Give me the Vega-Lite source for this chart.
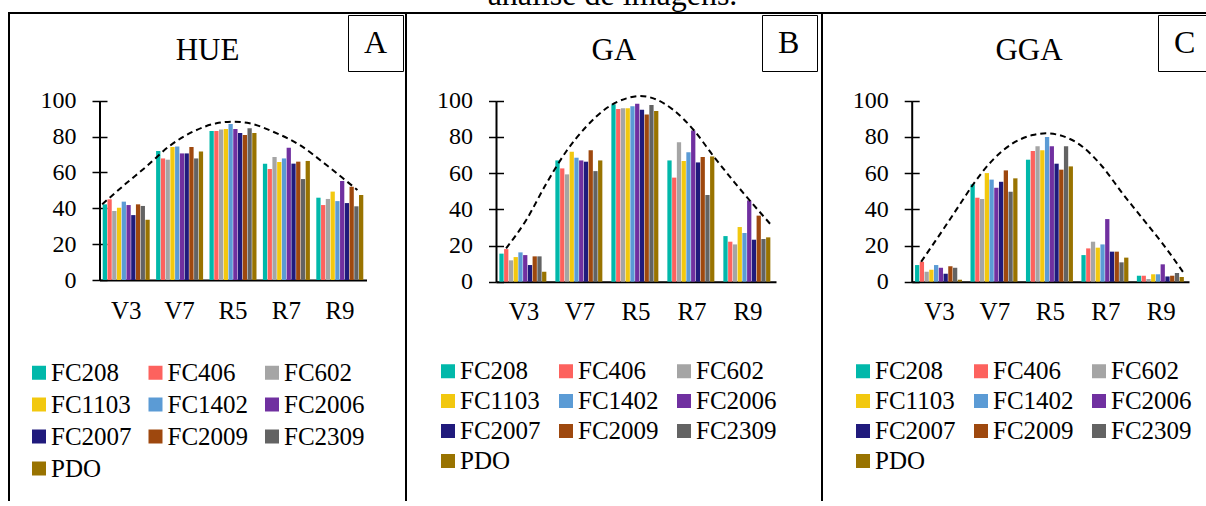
{
  "$schema": "https://vega.github.io/schema/vega-lite/v6.json",
  "padding": {"left": 8, "top": -21, "right": -31, "bottom": -13},
  "title": {"text": "análise de imagens.", "font": "Liberation Serif", "fontSize": 32, "fontWeight": "normal", "color": "black", "anchor": "middle", "baseline": "alphabetic", "offset": -25, "dx": -10},
  "spacing": 0,
  "bounds": "flush",
  "datasets": {
    "hue": [
      {"c":"V3","s":"FC208","v":42.2},{"c":"V3","s":"FC406","v":45.0},{"c":"V3","s":"FC602","v":38.5},{"c":"V3","s":"FC1103","v":40.3},{"c":"V3","s":"FC1402","v":43.7},{"c":"V3","s":"FC2006","v":41.8},{"c":"V3","s":"FC2007","v":36.2},{"c":"V3","s":"FC2009","v":42.2},{"c":"V3","s":"FC2309","v":41.3},{"c":"V3","s":"PDO","v":33.6},
      {"c":"V7","s":"FC208","v":71.9},{"c":"V7","s":"FC406","v":67.8},{"c":"V7","s":"FC602","v":67.1},{"c":"V7","s":"FC1103","v":74.2},{"c":"V7","s":"FC1402","v":74.5},{"c":"V7","s":"FC2006","v":70.6},{"c":"V7","s":"FC2007","v":70.6},{"c":"V7","s":"FC2009","v":74.2},{"c":"V7","s":"FC2309","v":67.8},{"c":"V7","s":"PDO","v":71.7},
      {"c":"R5","s":"FC208","v":83.1},{"c":"R5","s":"FC406","v":83.1},{"c":"R5","s":"FC602","v":84.0},{"c":"R5","s":"FC1103","v":84.2},{"c":"R5","s":"FC1402","v":87.0},{"c":"R5","s":"FC2006","v":84.2},{"c":"R5","s":"FC2007","v":82.0},{"c":"R5","s":"FC2009","v":80.9},{"c":"R5","s":"FC2309","v":84.6},{"c":"R5","s":"PDO","v":82.0},
      {"c":"R7","s":"FC208","v":64.9},{"c":"R7","s":"FC406","v":61.9},{"c":"R7","s":"FC602","v":68.6},{"c":"R7","s":"FC1103","v":65.8},{"c":"R7","s":"FC1402","v":67.8},{"c":"R7","s":"FC2006","v":73.8},{"c":"R7","s":"FC2007","v":64.9},{"c":"R7","s":"FC2009","v":66.0},{"c":"R7","s":"FC2309","v":56.3},{"c":"R7","s":"PDO","v":66.4},
      {"c":"R9","s":"FC208","v":45.9},{"c":"R9","s":"FC406","v":41.8},{"c":"R9","s":"FC602","v":45.2},{"c":"R9","s":"FC1103","v":49.3},{"c":"R9","s":"FC1402","v":44.0},{"c":"R9","s":"FC2006","v":55.2},{"c":"R9","s":"FC2007","v":42.9},{"c":"R9","s":"FC2009","v":52.0},{"c":"R9","s":"FC2309","v":41.1},{"c":"R9","s":"PDO","v":47.4}
    ],
    "ga": [
      {"c":"V3","s":"FC208","v":15.5},{"c":"V3","s":"FC406","v":18.0},{"c":"V3","s":"FC602","v":11.8},{"c":"V3","s":"FC1103","v":13.6},{"c":"V3","s":"FC1402","v":16.2},{"c":"V3","s":"FC2006","v":14.7},{"c":"V3","s":"FC2007","v":9.2},{"c":"V3","s":"FC2009","v":14.0},{"c":"V3","s":"FC2309","v":14.0},{"c":"V3","s":"PDO","v":5.5},
      {"c":"V7","s":"FC208","v":67.0},{"c":"V7","s":"FC406","v":62.6},{"c":"V7","s":"FC602","v":59.3},{"c":"V7","s":"FC1103","v":71.8},{"c":"V7","s":"FC1402","v":68.5},{"c":"V7","s":"FC2006","v":67.0},{"c":"V7","s":"FC2007","v":66.3},{"c":"V7","s":"FC2009","v":72.6},{"c":"V7","s":"FC2309","v":61.1},{"c":"V7","s":"PDO","v":67.0},
      {"c":"R5","s":"FC208","v":98.0},{"c":"R5","s":"FC406","v":95.4},{"c":"R5","s":"FC602","v":95.8},{"c":"R5","s":"FC1103","v":95.8},{"c":"R5","s":"FC1402","v":96.9},{"c":"R5","s":"FC2006","v":98.3},{"c":"R5","s":"FC2007","v":95.0},{"c":"R5","s":"FC2009","v":92.4},{"c":"R5","s":"FC2309","v":97.6},{"c":"R5","s":"PDO","v":94.3},
      {"c":"R7","s":"FC208","v":67.0},{"c":"R7","s":"FC406","v":57.5},{"c":"R7","s":"FC602","v":77.0},{"c":"R7","s":"FC1103","v":66.7},{"c":"R7","s":"FC1402","v":71.5},{"c":"R7","s":"FC2006","v":83.6},{"c":"R7","s":"FC2007","v":65.9},{"c":"R7","s":"FC2009","v":68.9},{"c":"R7","s":"FC2309","v":47.9},{"c":"R7","s":"PDO","v":69.2},
      {"c":"R9","s":"FC208","v":25.2},{"c":"R9","s":"FC406","v":22.1},{"c":"R9","s":"FC602","v":20.6},{"c":"R9","s":"FC1103","v":30.2},{"c":"R9","s":"FC1402","v":26.9},{"c":"R9","s":"FC2006","v":44.9},{"c":"R9","s":"FC2007","v":23.2},{"c":"R9","s":"FC2009","v":36.5},{"c":"R9","s":"FC2309","v":23.6},{"c":"R9","s":"PDO","v":24.5}
    ],
    "gga": [
      {"c":"V3","s":"FC208","v":9.2},{"c":"V3","s":"FC406","v":11.0},{"c":"V3","s":"FC602","v":5.5},{"c":"V3","s":"FC1103","v":6.6},{"c":"V3","s":"FC1402","v":9.2},{"c":"V3","s":"FC2006","v":7.7},{"c":"V3","s":"FC2007","v":4.4},{"c":"V3","s":"FC2009","v":8.5},{"c":"V3","s":"FC2309","v":7.7},{"c":"V3","s":"PDO","v":1.1},
      {"c":"V7","s":"FC208","v":53.8},{"c":"V7","s":"FC406","v":46.4},{"c":"V7","s":"FC602","v":45.7},{"c":"V7","s":"FC1103","v":60.0},{"c":"V7","s":"FC1402","v":56.4},{"c":"V7","s":"FC2006","v":51.9},{"c":"V7","s":"FC2007","v":55.2},{"c":"V7","s":"FC2009","v":61.5},{"c":"V7","s":"FC2309","v":49.7},{"c":"V7","s":"PDO","v":57.1},
      {"c":"R5","s":"FC208","v":67.4},{"c":"R5","s":"FC406","v":72.2},{"c":"R5","s":"FC602","v":74.8},{"c":"R5","s":"FC1103","v":72.6},{"c":"R5","s":"FC1402","v":79.9},{"c":"R5","s":"FC2006","v":74.8},{"c":"R5","s":"FC2007","v":65.2},{"c":"R5","s":"FC2009","v":61.9},{"c":"R5","s":"FC2309","v":74.8},{"c":"R5","s":"PDO","v":63.7},
      {"c":"R7","s":"FC208","v":14.7},{"c":"R7","s":"FC406","v":18.4},{"c":"R7","s":"FC602","v":22.1},{"c":"R7","s":"FC1103","v":18.8},{"c":"R7","s":"FC1402","v":20.6},{"c":"R7","s":"FC2006","v":34.6},{"c":"R7","s":"FC2007","v":16.6},{"c":"R7","s":"FC2009","v":16.6},{"c":"R7","s":"FC2309","v":10.7},{"c":"R7","s":"PDO","v":13.3},
      {"c":"R9","s":"FC208","v":3.3},{"c":"R9","s":"FC406","v":3.3},{"c":"R9","s":"FC602","v":1.5},{"c":"R9","s":"FC1103","v":4.1},{"c":"R9","s":"FC1402","v":4.1},{"c":"R9","s":"FC2006","v":9.6},{"c":"R9","s":"FC2007","v":2.9},{"c":"R9","s":"FC2009","v":3.3},{"c":"R9","s":"FC2309","v":4.8},{"c":"R9","s":"PDO","v":2.6}
    ],
    "hue_c": [
      {"p":"A","u":0.05,"v":42.2},{"p":"A","u":0.5,"v":53.9},{"p":"A","u":0.875,"v":63.2},{"p":"A","u":1.31,"v":74.7},{"p":"A","u":1.75,"v":82.7},{"p":"A","u":2.19,"v":87.4},{"p":"A","u":2.5,"v":88.3},{"p":"A","u":2.81,"v":87.4},{"p":"A","u":3.25,"v":82.7},{"p":"A","u":3.75,"v":75.3},{"p":"A","u":4.25,"v":64.1},{"p":"A","u":4.56,"v":56.7},{"p":"A","u":4.83,"v":50.2}
    ],
    "ga_c": [
      {"p":"B","u":0.18,"v":18.4},{"p":"B","u":0.54,"v":34.1},{"p":"B","u":0.9,"v":54.3},{"p":"B","u":1.25,"v":71.8},{"p":"B","u":1.61,"v":85.6},{"p":"B","u":1.97,"v":95.8},{"p":"B","u":2.33,"v":101.3},{"p":"B","u":2.57,"v":102.6},{"p":"B","u":2.81,"v":101.3},{"p":"B","u":3.17,"v":94.8},{"p":"B","u":3.53,"v":83.8},{"p":"B","u":3.89,"v":69.1},{"p":"B","u":4.25,"v":55.2},{"p":"B","u":4.55,"v":44.2},{"p":"B","u":4.94,"v":30.4}
    ],
    "gga_c": [
      {"p":"C","u":0.17,"v":11.0},{"p":"C","u":0.56,"v":28.5},{"p":"C","u":0.92,"v":45.1},{"p":"C","u":1.1,"v":53.4},{"p":"C","u":1.46,"v":67.2},{"p":"C","u":1.82,"v":76.4},{"p":"C","u":2.18,"v":81.0},{"p":"C","u":2.42,"v":82.0},{"p":"C","u":2.66,"v":81.0},{"p":"C","u":3.08,"v":74.6},{"p":"C","u":3.44,"v":63.5},{"p":"C","u":3.8,"v":48.8},{"p":"C","u":4.16,"v":35.0},{"p":"C","u":4.52,"v":21.2},{"p":"C","u":4.91,"v":4.6}
    ]
  },
  "hconcat": [
    {
      "width": 397, "height": 500,
      "title": {"text": "HUE", "font": "Liberation Serif", "fontSize": 31, "fontWeight": "normal", "color": "black", "anchor": "middle", "baseline": "alphabetic", "offset": -78},
      "layer": [
        {
          "data": {"name": "hue"},
          "mark": {"type": "bar"},
          "encoding": {
            "x": {"field": "c", "type": "nominal", "sort": ["V3","V7","R5","R7","R9"], "scale": {"range": [90.5, 357.5], "paddingInner": 0.12, "paddingOuter": 0.06},
                  "axis": {"orient": "bottom", "offset": -233, "ticks": false, "domainColor": "black", "domainWidth": 2, "labelFont": "Liberation Serif", "labelFontSize": 25, "labelColor": "black", "labelPadding": 18, "labelAngle": 0, "title": null, "grid": false}},
            "xOffset": {"field": "s", "type": "nominal", "sort": ["FC208","FC406","FC602","FC1103","FC1402","FC2006","FC2007","FC2009","FC2309","PDO"], "scale": {"paddingInner": 0.1}},
            "y": {"field": "v", "type": "quantitative", "scale": {"domain": [0, 100], "range": [267, 87.7], "nice": false},
                  "axis": {"orient": "left", "offset": -90.5, "values": [0,20,40,60,80,100], "tickSize": 7.5, "tickWidth": 1.5, "tickColor": "black", "domainColor": "black", "domainWidth": 2, "labelFont": "Liberation Serif", "labelFontSize": 24, "labelColor": "black", "labelPadding": 16, "grid": false, "title": null}},
            "color": {"field": "s", "type": "nominal", "sort": ["FC208","FC406","FC602","FC1103","FC1402","FC2006","FC2007","FC2009","FC2309","PDO"],
                      "scale": {"domain": ["FC208","FC406","FC602","FC1103","FC1402","FC2006","FC2007","FC2009","FC2309","PDO"], "range": ["#01B8AA","#FD625E","#A5A5A5","#F2C80F","#5B9BD5","#7030A0","#201A7C","#9E480E","#636363","#997300"]},
                      "legend": {"orient": "none", "direction": "horizontal", "legendX": 17.5, "legendY": 347, "columns": 3, "title": null, "symbolType": "square", "symbolSize": 196, "symbolStrokeWidth": 0, "labelFont": "Liberation Serif", "labelFontSize": 25, "labelColor": "black", "labelOffset": -0.5, "rowPadding": 6, "columnPadding": 10.5, "labelLimit": 300, "padding": 0}}
          }
        },
        {
          "data": {"name": "hue_c"},
          "mark": {"type": "line", "strokeWidth": 2, "color": "black", "interpolate": "monotone"},
          "encoding": {
            "x": {"field": "u", "type": "quantitative", "scale": {"domain": [0, 5], "range": [90.5, 357.5], "nice": false, "zero": false}, "axis": null},
            "y": {"field": "v", "type": "quantitative", "scale": {"domain": [0, 100], "range": [267, 87.7], "nice": false},
                  "axis": {"orient": "left", "offset": -90.5, "values": [0,20,40,60,80,100], "tickSize": -7.5, "tickWidth": 1.5, "tickColor": "black", "labels": false, "domain": false, "grid": false, "title": null}},
            "strokeDash": {"field": "p", "type": "nominal", "scale": {"range": [[6, 4]]},
                           "legend": {"orient": "none", "legendX": 339, "legendY": 2, "title": null, "symbolType": "square", "symbolSize": 900, "symbolOpacity": 0, "symbolStrokeWidth": 0, "labelOffset": -28, "labelFont": "Liberation Serif", "labelFontSize": 32, "labelColor": "black", "padding": 12, "strokeColor": "black"}}
          }
        }
      ],
      "resolve": {"scale": {"x": "independent", "y": "independent"}, "axis": {"x": "independent", "y": "independent"}}
    },
    {
      "width": 416, "height": 500,
      "title": {"text": "GA", "font": "Liberation Serif", "fontSize": 31, "fontWeight": "normal", "color": "black", "anchor": "middle", "baseline": "alphabetic", "offset": -78},
      "layer": [
        {
          "data": {"name": "ga"},
          "mark": {"type": "bar"},
          "encoding": {
            "x": {"field": "c", "type": "nominal", "sort": ["V3","V7","R5","R7","R9"], "scale": {"range": [90, 370], "paddingInner": 0.12, "paddingOuter": 0.06},
                  "axis": {"orient": "bottom", "offset": -231.3, "ticks": false, "domainColor": "black", "domainWidth": 2, "labelFont": "Liberation Serif", "labelFontSize": 25, "labelColor": "black", "labelPadding": 18, "labelAngle": 0, "title": null, "grid": false}},
            "xOffset": {"field": "s", "type": "nominal", "sort": ["FC208","FC406","FC602","FC1103","FC1402","FC2006","FC2007","FC2009","FC2309","PDO"], "scale": {"paddingInner": 0.1}},
            "y": {"field": "v", "type": "quantitative", "scale": {"domain": [0, 100], "range": [268.7, 87.7], "nice": false},
                  "axis": {"orient": "left", "offset": -90, "values": [0,20,40,60,80,100], "tickSize": 7.5, "tickWidth": 1.5, "tickColor": "black", "domainColor": "black", "domainWidth": 2, "labelFont": "Liberation Serif", "labelFontSize": 24, "labelColor": "black", "labelPadding": 16, "grid": false, "title": null}},
            "color": {"field": "s", "type": "nominal", "sort": ["FC208","FC406","FC602","FC1103","FC1402","FC2006","FC2007","FC2009","FC2309","PDO"],
                      "scale": {"domain": ["FC208","FC406","FC602","FC1103","FC1402","FC2006","FC2007","FC2009","FC2309","PDO"], "range": ["#01B8AA","#FD625E","#A5A5A5","#F2C80F","#5B9BD5","#7030A0","#201A7C","#9E480E","#636363","#997300"]},
                      "legend": {"orient": "none", "direction": "horizontal", "legendX": 29.5, "legendY": 345.5, "columns": 3, "title": null, "symbolType": "square", "symbolSize": 196, "symbolStrokeWidth": 0, "labelFont": "Liberation Serif", "labelFontSize": 25, "labelColor": "black", "labelOffset": -0.5, "rowPadding": 4, "columnPadding": 12, "labelLimit": 300, "padding": 0}}
          }
        },
        {
          "data": {"name": "ga_c"},
          "mark": {"type": "line", "strokeWidth": 2, "color": "black", "interpolate": "monotone"},
          "encoding": {
            "x": {"field": "u", "type": "quantitative", "scale": {"domain": [0, 5], "range": [90, 370], "nice": false, "zero": false}, "axis": null},
            "y": {"field": "v", "type": "quantitative", "scale": {"domain": [0, 100], "range": [268.7, 87.7], "nice": false},
                  "axis": {"orient": "left", "offset": -90, "values": [0,20,40,60,80,100], "tickSize": -7.5, "tickWidth": 1.5, "tickColor": "black", "labels": false, "domain": false, "grid": false, "title": null}},
            "strokeDash": {"field": "p", "type": "nominal", "scale": {"range": [[6, 4]]},
                           "legend": {"orient": "none", "legendX": 356, "legendY": 2, "title": null, "symbolType": "square", "symbolSize": 900, "symbolOpacity": 0, "symbolStrokeWidth": 0, "labelOffset": -28, "labelFont": "Liberation Serif", "labelFontSize": 32, "labelColor": "black", "padding": 12, "strokeColor": "black"}}
          }
        }
      ],
      "resolve": {"scale": {"x": "independent", "y": "independent"}, "axis": {"x": "independent", "y": "independent"}}
    },
    {
      "width": 414, "height": 500,
      "title": {"text": "GGA", "font": "Liberation Serif", "fontSize": 31, "fontWeight": "normal", "color": "black", "anchor": "middle", "baseline": "alphabetic", "offset": -78},
      "layer": [
        {
          "data": {"name": "gga"},
          "mark": {"type": "bar"},
          "encoding": {
            "x": {"field": "c", "type": "nominal", "sort": ["V3","V7","R5","R7","R9"], "scale": {"range": [89.7, 367], "paddingInner": 0.12, "paddingOuter": 0.06},
                  "axis": {"orient": "bottom", "offset": -231.3, "ticks": false, "domainColor": "black", "domainWidth": 2, "labelFont": "Liberation Serif", "labelFontSize": 25, "labelColor": "black", "labelPadding": 18, "labelAngle": 0, "title": null, "grid": false}},
            "xOffset": {"field": "s", "type": "nominal", "sort": ["FC208","FC406","FC602","FC1103","FC1402","FC2006","FC2007","FC2009","FC2309","PDO"], "scale": {"paddingInner": 0.1}},
            "y": {"field": "v", "type": "quantitative", "scale": {"domain": [0, 100], "range": [268.7, 87.7], "nice": false},
                  "axis": {"orient": "left", "offset": -89.7, "values": [0,20,40,60,80,100], "tickSize": 7.5, "tickWidth": 1.5, "tickColor": "black", "domainColor": "black", "domainWidth": 2, "labelFont": "Liberation Serif", "labelFontSize": 24, "labelColor": "black", "labelPadding": 16, "grid": false, "title": null}},
            "color": {"field": "s", "type": "nominal", "sort": ["FC208","FC406","FC602","FC1103","FC1402","FC2006","FC2007","FC2009","FC2309","PDO"],
                      "scale": {"domain": ["FC208","FC406","FC602","FC1103","FC1402","FC2006","FC2007","FC2009","FC2309","PDO"], "range": ["#01B8AA","#FD625E","#A5A5A5","#F2C80F","#5B9BD5","#7030A0","#201A7C","#9E480E","#636363","#997300"]},
                      "legend": {"orient": "none", "direction": "horizontal", "legendX": 28.5, "legendY": 345.5, "columns": 3, "title": null, "symbolType": "square", "symbolSize": 196, "symbolStrokeWidth": 0, "labelFont": "Liberation Serif", "labelFontSize": 25, "labelColor": "black", "labelOffset": -0.5, "rowPadding": 4, "columnPadding": 12, "labelLimit": 300, "padding": 0}}
          }
        },
        {
          "data": {"name": "gga_c"},
          "mark": {"type": "line", "strokeWidth": 2, "color": "black", "interpolate": "monotone"},
          "encoding": {
            "x": {"field": "u", "type": "quantitative", "scale": {"domain": [0, 5], "range": [89.7, 367], "nice": false, "zero": false}, "axis": null},
            "y": {"field": "v", "type": "quantitative", "scale": {"domain": [0, 100], "range": [268.7, 87.7], "nice": false},
                  "axis": {"orient": "left", "offset": -89.7, "values": [0,20,40,60,80,100], "tickSize": -7.5, "tickWidth": 1.5, "tickColor": "black", "labels": false, "domain": false, "grid": false, "title": null}},
            "strokeDash": {"field": "p", "type": "nominal", "scale": {"range": [[6, 4]]},
                           "legend": {"orient": "none", "legendX": 336, "legendY": 2, "title": null, "symbolType": "square", "symbolSize": 900, "symbolOpacity": 0, "symbolStrokeWidth": 0, "labelOffset": -28, "labelFont": "Liberation Serif", "labelFontSize": 32, "labelColor": "black", "padding": 12, "strokeColor": "black"}}
          }
        }
      ],
      "resolve": {"scale": {"x": "independent", "y": "independent"}, "axis": {"x": "independent", "y": "independent"}}
    }
  ],
  "resolve": {"scale": {"color": "independent", "strokeDash": "independent"}, "legend": {"color": "independent", "strokeDash": "independent"}},
  "config": {
    "view": {"stroke": "black", "strokeWidth": 2},
    "font": "Liberation Serif",
    "background": "white"
  }
}
